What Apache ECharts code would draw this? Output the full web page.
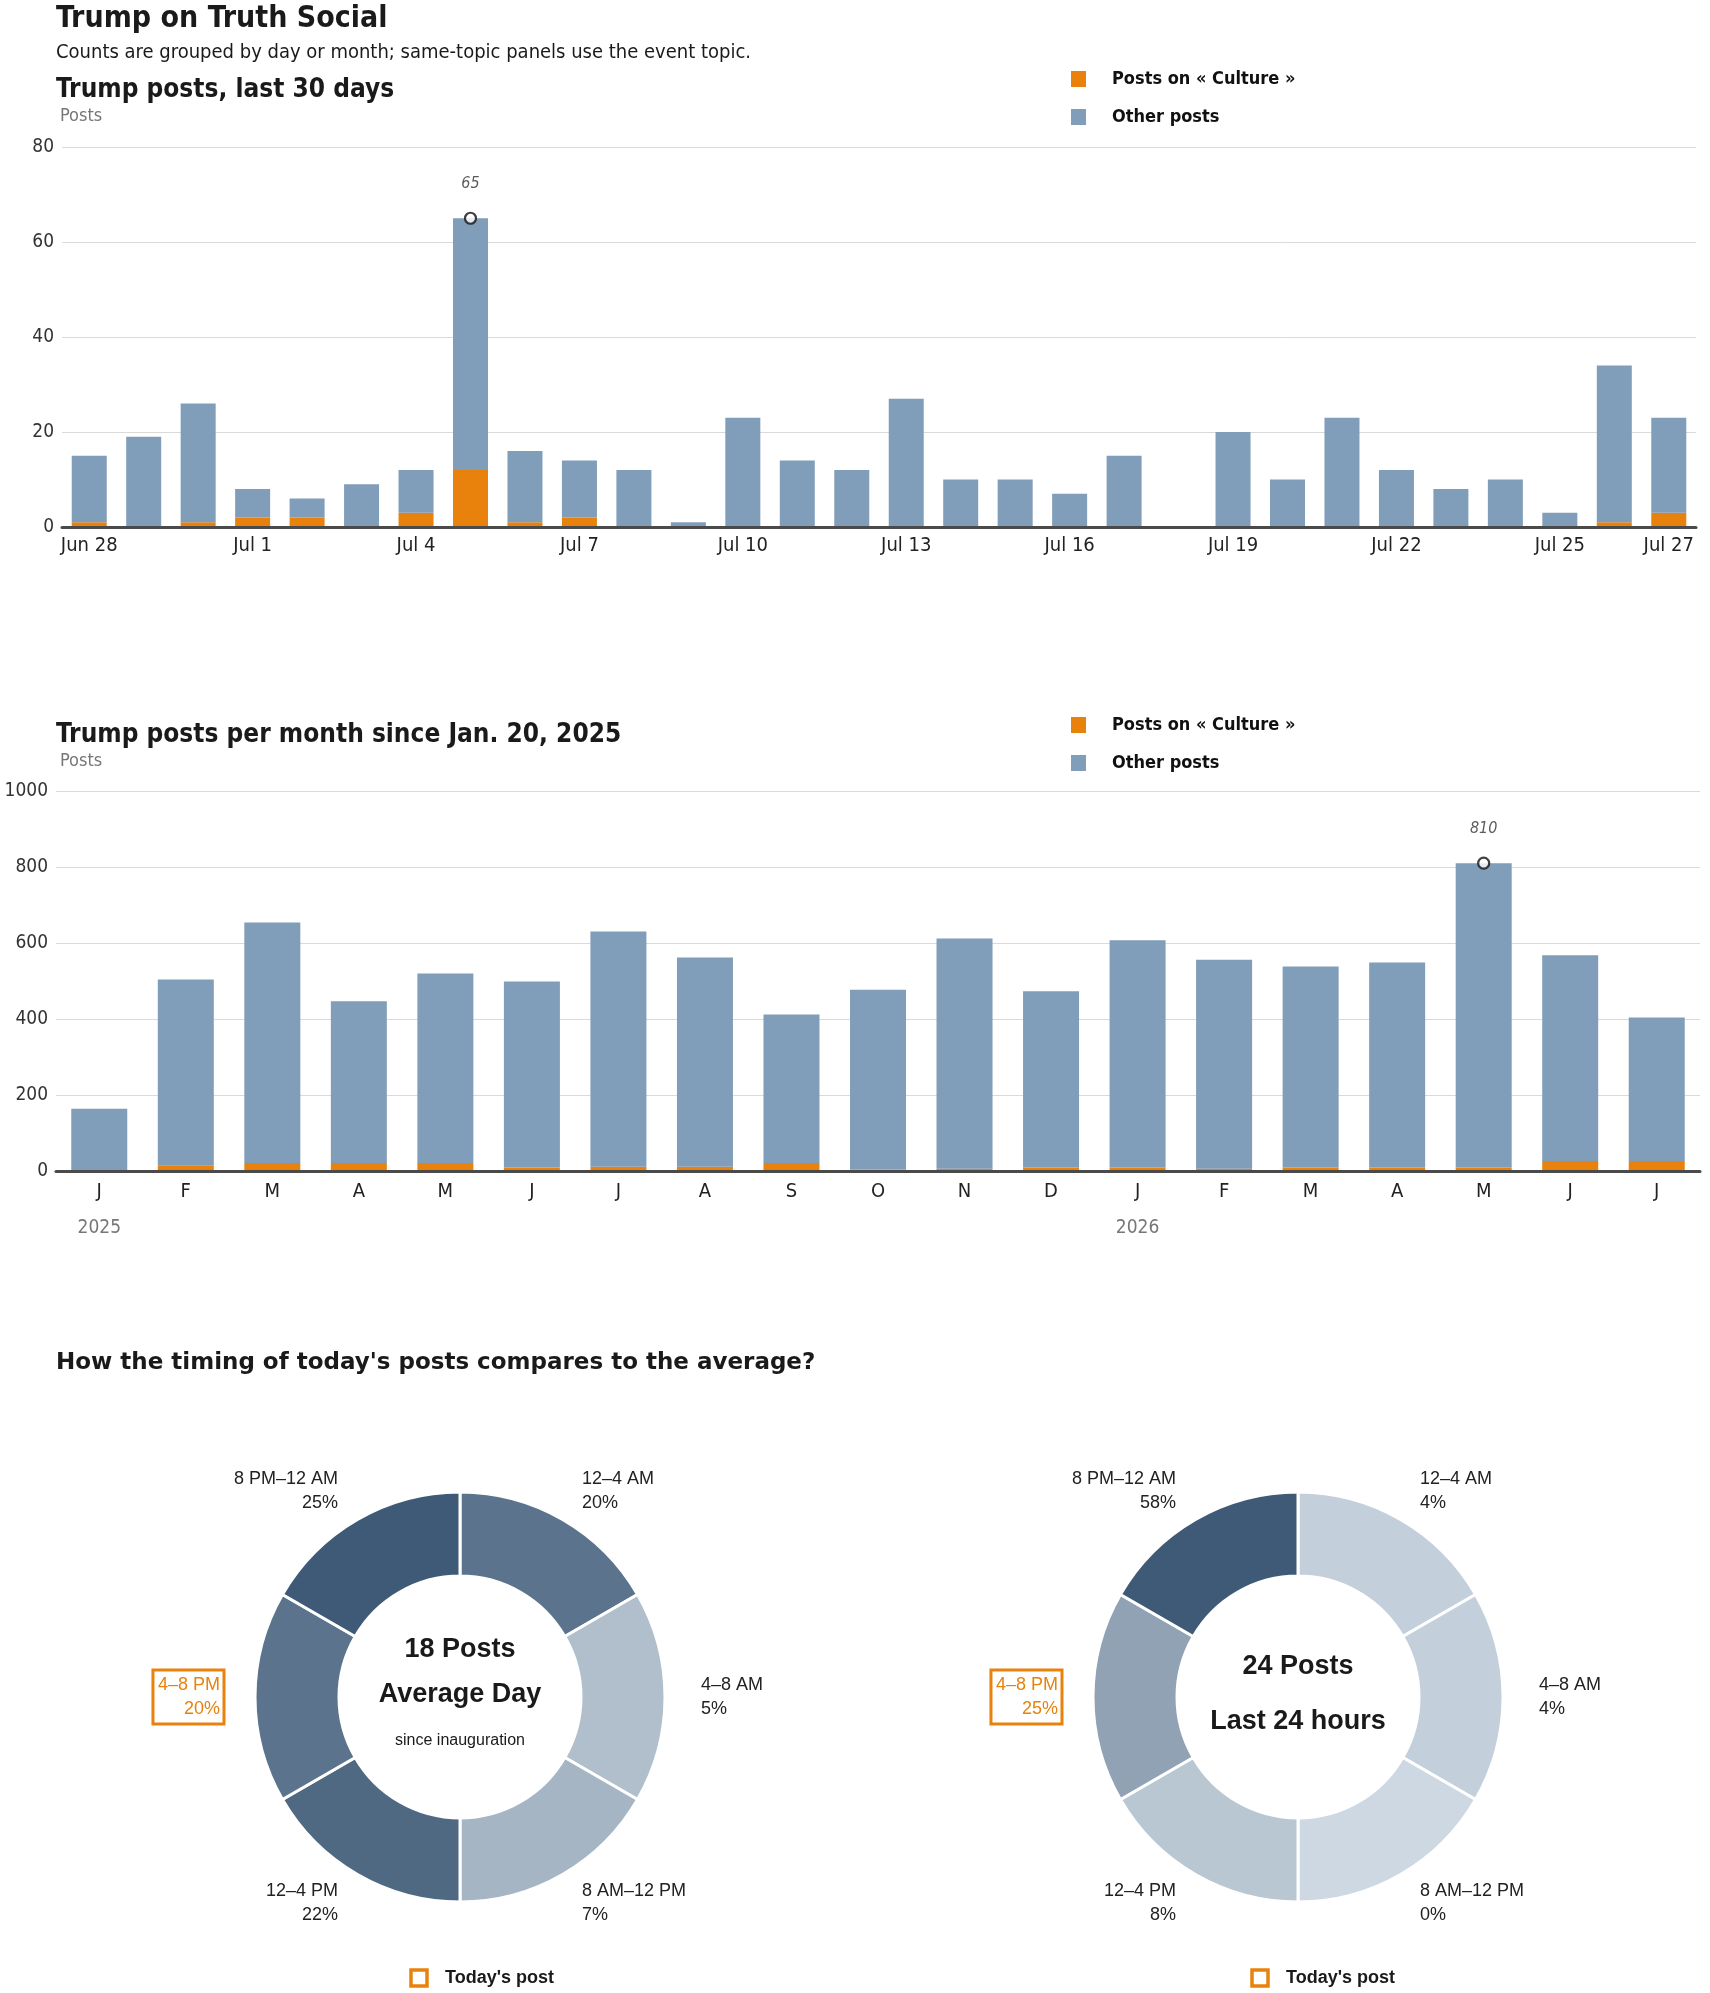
<!DOCTYPE html>
<html>
<head>
<meta charset="utf-8">
<title>Trump on Truth Social</title>
<script src="https://cdn.jsdelivr.net/npm/echarts@6/dist/echarts.min.js"></script>
<style>
  html, body { margin: 0; padding: 0; background: #fff; }
  #main { width: 1710px; height: 1993px; }
</style>
</head>
<body>
<div id="main"></div>
<script>
// --- last 30 days ---
var days = ['Jun 28','Jun 29','Jun 30','Jul 1','Jul 2','Jul 3','Jul 4','Jul 5','Jul 6','Jul 7',
  'Jul 8','Jul 9','Jul 10','Jul 11','Jul 12','Jul 13','Jul 14','Jul 15','Jul 16','Jul 17',
  'Jul 18','Jul 19','Jul 20','Jul 21','Jul 22','Jul 23','Jul 24','Jul 25','Jul 26','Jul 27'];
var dayCulture = [1,0,1,2,2,0,3,12,1,2,0,0,0,0,0,0,0,0,0,0,0,0,0,0,0,0,0,0,1,3];
var dayOther   = [14,19,25,6,4,9,9,53,15,12,12,1,23,14,12,27,10,10,7,15,0,20,10,23,12,8,10,3,33,20];

// --- per month since Jan. 20, 2025 ---
var months = ['J','F','M','A','M','J','J','A','S','O','N','D','J','F','M','A','M','J','J'];
var monthYears = ['2025','','','','','','','','','','','','2026','','','','','',''];
var monthCulture = [0,15,21,21,21,9,11,11,21,4,6,9,9,6,9,9,9,26,26];
var monthOther   = [164,489,633,426,499,490,619,551,391,473,606,464,598,550,529,540,801,542,378];

// --- timing of posts (4-hour blocks, clockwise from midnight) ---
var slots = ['12–4 AM','4–8 AM','8 AM–12 PM','12–4 PM','4–8 PM','8 PM–12 AM'];
var slotHours = [4,4,4,4,4,4];
var avgShare = [20,5,7,22,20,25];
var todayShare = [4,4,0,8,25,58];
var todaySlot = '4–8 PM';
var avgPosts = 18;
var todayPosts = 24;

var ORANGE = '#e8820c';
var BLUE = '#809db9';
var COND = "'Liberation Sans Narrow','Arial Narrow','DejaVu Sans Condensed',sans-serif";
var SANS = "'Liberation Sans',Arial,sans-serif";
var HEAVY = "'DejaVu Sans',sans-serif";

function peak(culture, other) {
  var best = 0, bestI = 0;
  for (var i = 0; i < culture.length; i++) {
    var t = culture[i] + other[i];
    if (t > best) { best = t; bestI = i; }
  }
  return [[bestI, best]];
}

// darker blue for bigger share, scaled to the donut's biggest share
function shade(t) {
  var lo = [205, 216, 226], hi = [63, 90, 118];
  var c = lo.map(function (v, k) { return Math.round(v + (hi[k] - v) * t); });
  return 'rgb(' + c.join(',') + ')';
}

function donut(center, shares) {
  var max = Math.max.apply(null, shares);
  return {
    type: 'pie',
    center: center,
    radius: [121, 205],
    startAngle: 90,
    clockwise: true,
    avoidLabelOverlap: false,
    silent: true,
    itemStyle: { borderColor: '#fff', borderWidth: 3 },
    label: {
      show: true, position: 'outside', distanceToLabelLine: 3,
      fontFamily: SANS, fontSize: 18, lineHeight: 24, color: '#222',
      formatter: function (p) { return p.name + '\n' + shares[p.dataIndex] + '%'; }
    },
    labelLine: { show: false, length: 33, length2: 0 },
    data: slots.map(function (s, i) {
      var d = { name: s, value: slotHours[i], itemStyle: { color: shade(shares[i] / max) } };
      if (s === todaySlot) {
        d.label = { color: ORANGE, borderColor: ORANGE, borderWidth: 3, padding: [3, 4, 3, 5] };
        d.labelLine = { show: false, length: 28, length2: 0 };
      }
      return d;
    })
  };
}

function barAxisLabel() {
  return { color: '#222', fontFamily: COND, fontSize: 20, margin: 9 };
}

function valueAxis(grid, max, interval, gap, nameShift) {
  return {
    type: 'value', gridIndex: grid, min: 0, max: max, interval: interval,
    name: 'Posts', nameLocation: 'end', nameGap: gap,
    nameTextStyle: { color: '#777', fontFamily: COND, fontSize: 18, align: 'left', verticalAlign: 'middle', padding: [0, 0, 0, nameShift] },
    axisLine: { show: false }, axisTick: { show: false },
    axisLabel: { color: '#333', fontFamily: COND, fontSize: 19, margin: 8,
      formatter: function (v) { return String(v); } },
    splitLine: { lineStyle: { color: '#dadada', width: 1 } }
  };
}

function peakSeries(x, y, culture, other) {
  return {
    type: 'scatter', xAxisIndex: x, yAxisIndex: y, z: 5,
    symbol: 'circle', symbolSize: 11,
    itemStyle: { color: '#fff', borderColor: '#111', borderWidth: 2.2 },
    label: { show: true, position: 'top', distance: 20, color: '#333', fontFamily: COND, fontStyle: 'italic', fontSize: 16,
      formatter: function (p) { return p.value[1]; } },
    data: peak(culture, other)
  };
}

function legend(top) {
  return {
    orient: 'vertical', left: 1071, top: top, padding: 0,
    icon: 'rect', itemWidth: 15, itemHeight: 16, itemGap: 20,
    selectedMode: false,
    textStyle: { color: '#111', fontFamily: COND, fontWeight: 'bold', fontSize: 18, padding: [0, 0, 0, 21] },
    data: ['Posts on « Culture »', 'Other posts']
  };
}

function titleBox(text, top, size, font, weight) {
  return { text: text, left: 56, top: top, padding: 0,
    textStyle: { color: '#1a1a1a', fontFamily: font, fontSize: size, fontWeight: weight, lineHeight: size } };
}

function centerText(x, y, text, size, weight) {
  return { type: 'text', x: x, y: y, style: { text: text, font: weight + ' ' + size + 'px ' + SANS,
    fill: '#1a1a1a', align: 'center', verticalAlign: 'middle' } };
}

function todayKey(x) {
  return [
    { type: 'rect', shape: { x: x, y: 1970, width: 16, height: 16 }, style: { fill: 'none', stroke: ORANGE, lineWidth: 3.5 } },
    { type: 'text', x: x + 34, y: 1978, style: { text: "Today's post", font: 'bold 18px ' + SANS, fill: '#1a1a1a', verticalAlign: 'middle' } }
  ];
}

var chart = echarts.init(document.getElementById('main'));
chart.setOption({
  animation: false,
  backgroundColor: '#fff',
  title: [
    titleBox('Trump on Truth Social', 4, 30, COND, 'bold'),
    titleBox('Counts are grouped by day or month; same-topic panels use the event topic.', 43, 20, COND, 'normal'),
    titleBox('Trump posts, last 30 days', 77, 26, COND, 'bold'),
    titleBox('Trump posts per month since Jan. 20, 2025', 722, 26, COND, 'bold'),
    titleBox("How the timing of today's posts compares to the average?", 1352, 23, HEAVY, 'bold')
  ],
  legend: [legend(70), legend(716)],
  grid: [
    { left: 62, right: 14, top: 147, height: 380 },
    { left: 56, right: 10, top: 791, height: 380 }
  ],
  xAxis: [
    { type: 'category', gridIndex: 0, data: days, z: 10,
      axisLine: { lineStyle: { color: '#4a4a4a', width: 3 } }, axisTick: { show: false },
      axisLabel: Object.assign(barAxisLabel(), {
        interval: function (i) { return i % 3 === 0 || i === days.length - 1; } }) },
    { type: 'category', gridIndex: 1, data: months, z: 10,
      axisLine: { lineStyle: { color: '#4a4a4a', width: 3 } }, axisTick: { show: false },
      axisLabel: Object.assign(barAxisLabel(), { interval: 0, margin: 11 }) },
    { type: 'category', gridIndex: 1, data: monthYears, position: 'bottom',
      axisLine: { show: false }, axisTick: { show: false }, splitLine: { show: false },
      axisLabel: { interval: 0, color: '#777', fontFamily: COND, fontSize: 19, margin: 48 } }
  ],
  yAxis: [valueAxis(0, 80, 20, 31, -2), valueAxis(1, 1000, 200, 30, 4)],
  series: [
    { name: 'Posts on « Culture »', type: 'bar', stack: 'day', xAxisIndex: 0, yAxisIndex: 0,
      barWidth: 35, itemStyle: { color: ORANGE }, data: dayCulture },
    { name: 'Other posts', type: 'bar', stack: 'day', xAxisIndex: 0, yAxisIndex: 0,
      barWidth: 35, itemStyle: { color: BLUE }, data: dayOther },
    peakSeries(0, 0, dayCulture, dayOther),
    { name: 'Posts on « Culture »', type: 'bar', stack: 'month', xAxisIndex: 1, yAxisIndex: 1,
      barWidth: 56, itemStyle: { color: ORANGE }, data: monthCulture },
    { name: 'Other posts', type: 'bar', stack: 'month', xAxisIndex: 1, yAxisIndex: 1,
      barWidth: 56, itemStyle: { color: BLUE }, data: monthOther },
    peakSeries(1, 1, monthCulture, monthOther),
    donut([460, 1697], avgShare),
    donut([1298, 1697], todayShare)
  ],
  graphic: [
    centerText(460, 1650, avgPosts + ' Posts', 27, 'bold'),
    centerText(460, 1695, 'Average Day', 27, 'bold'),
    centerText(460, 1741, 'since inauguration', 16, 'normal'),
    centerText(1298, 1667, todayPosts + ' Posts', 27, 'bold'),
    centerText(1298, 1722, 'Last 24 hours', 27, 'bold')
  ].concat(todayKey(411), todayKey(1252))
});
</script>
</body>
</html>
